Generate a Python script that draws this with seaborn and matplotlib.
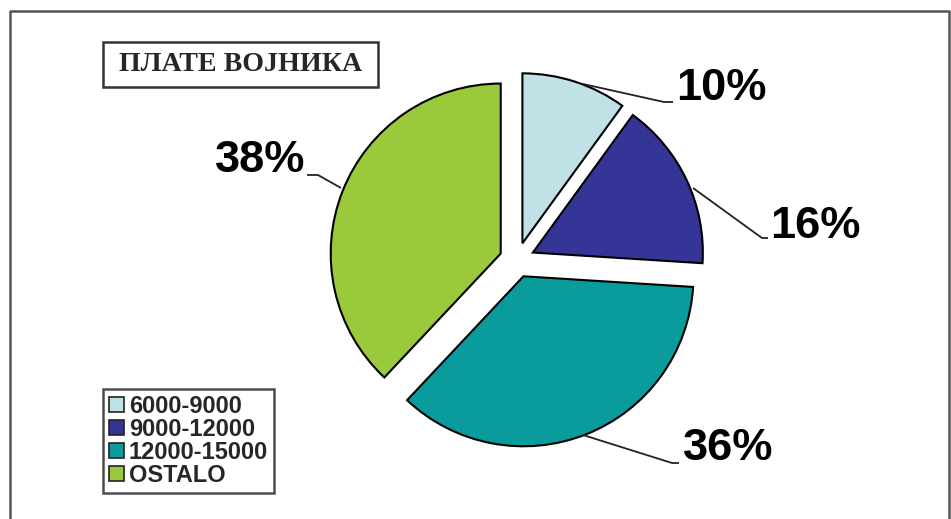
import matplotlib
matplotlib.use("Agg")
import matplotlib.pyplot as plt
import seaborn as sns
from matplotlib.patches import Rectangle

sns.set_theme(style="white")
plt.rcParams['font.family'] = ['Liberation Sans', 'DejaVu Sans']

title = "ПЛАТЕ ВОЈНИКА"
categories = ["6000-9000", "9000-12000", "12000-15000", "OSTALO"]
values = [10, 16, 36, 38]
labels = ["10%", "16%", "36%", "38%"]
colors = ["#C0E2E6", "#343596", "#0A9C9C", "#9ACA3C"]

W, H = 951, 519
CX, CY, R = 517, 260, 170   # pie centre and radius in pixels

fig = plt.figure(figsize=(W / 100, H / 100), dpi=100)
ax = fig.add_axes([0, 0, 1, 1])

wedges, _ = ax.pie(values, colors=colors, startangle=90, counterclock=False,
                   explode=[0.103] * 4, radius=1,
                   wedgeprops=dict(edgecolor="black", linewidth=1.5))
ax.set_aspect("auto")
ax.set_xlim(-CX / R, (W - CX) / R)
ax.set_ylim(-(H - CY) / R, CY / R)
ax.set_axis_off()


def px(x, y):
    return ((x - CX) / R, (CY - y) / R)


# leader lines + labels (pixel coordinates of anchor points)
leaders = [
    [(583, 84), (664, 102), (673, 102)],
    [(693, 188), (762, 238), (768, 238)],
    [(583, 435), (672, 463), (679, 463)],
    [(341, 188), (318, 175), (307, 175)],
]
label_pos = [(676, 89, "left"), (770, 226, "left"), (683, 449, "left"), (305, 161, "right")]
for pts, (lx, ly, ha), lab in zip(leaders, label_pos, labels):
    xs, ys = zip(*[px(x, y) for x, y in pts])
    ax.plot(xs, ys, color="#222222", lw=1.3, solid_capstyle="butt")
    tx, ty = px(lx, ly)
    ax.text(tx, ty, lab, ha=ha, va="center", fontsize=32.5, fontweight="bold",
            color="black")

# title box
x0, y0 = px(103, 87)
x1, y1 = px(378, 42)
ax.add_patch(Rectangle((x0, y0), x1 - x0, y1 - y0, facecolor="white",
                       edgecolor="#333333", lw=1.8, zorder=3))
tx, ty = px(240.5, 64.5)
ax.text(tx, ty, title, ha="center", va="center", fontsize=20.2,
        fontweight="bold", family=["Liberation Serif", "DejaVu Serif"], zorder=4)

# legend
leg = ax.legend(wedges, categories, loc="upper left",
                bbox_to_anchor=(103 / W, 1 - 389 / H), bbox_transform=fig.transFigure,
                frameon=True, fancybox=False,
                prop=dict(weight="bold", size=17),
                handlelength=0.65, handleheight=0.65, handletextpad=0.2,
                labelspacing=0.0, borderpad=0.25, borderaxespad=0)
leg.get_frame().set_edgecolor("#222222")
leg.get_frame().set_linewidth(1.8)
for h in leg.legend_handles:
    h.set_linewidth(1.2)
    h.set_edgecolor("#222222")

# outer border (left, top, right)
bx = [10 / W, 10 / W, 949 / W, 949 / W]
by = [0, 1 - 10.5 / H, 1 - 10.5 / H, 0]
fig.add_artist(plt.Line2D(bx, by, transform=fig.transFigure, color="#555555", lw=1.8))

fig.savefig("out.png", dpi=100, facecolor="white")
